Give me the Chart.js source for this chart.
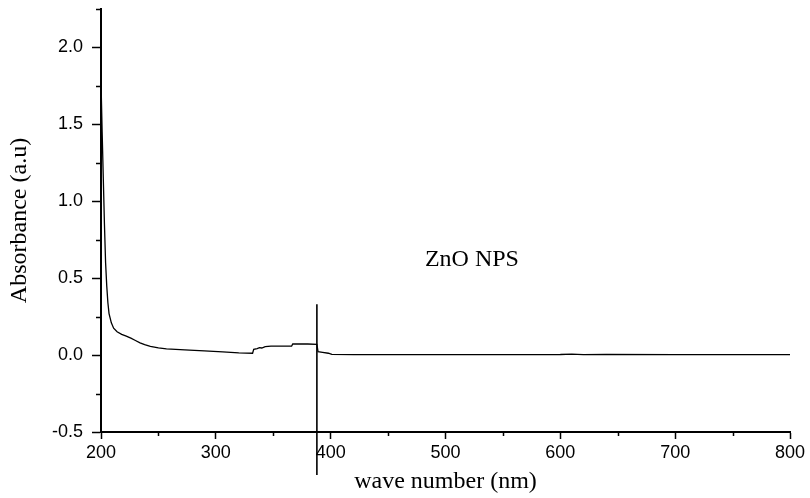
<!DOCTYPE html>
<html>
<head>
<meta charset="utf-8">
<script src="https://cdn.jsdelivr.net/npm/chart.js@4/dist/chart.umd.min.js"></script>
<style>
    html, body { margin: 0; padding: 0; background: #fff; }
    #wrap { width: 810px; height: 498px; }
</style>
</head>
<body>
<div id="wrap"><canvas id="uvChart" width="810" height="498"></canvas></div>
<script>
// Absorbance spectrum
const waveNm = [200, 201, 202, 203, 204, 205, 206, 207, 209, 211, 214, 218, 222, 226, 230, 234, 238, 243, 250, 257, 265, 277, 290, 306, 320, 332, 333, 336, 338, 340, 343, 348, 366, 367, 375, 380, 388, 389, 393, 398, 401, 420, 500, 600, 610, 620, 640, 700, 800];
const absorbance = [1.78, 1.45, 1.15, 0.85, 0.6, 0.45, 0.34, 0.27, 0.21, 0.175, 0.152, 0.135, 0.123, 0.11, 0.095, 0.08, 0.068, 0.057, 0.047, 0.041, 0.037, 0.032, 0.027, 0.021, 0.014, 0.012, 0.038, 0.042, 0.048, 0.046, 0.055, 0.058, 0.058, 0.072, 0.073, 0.072, 0.07, 0.022, 0.018, 0.012, 0.004, 0.003, 0.003, 0.004, 0.006, 0.003, 0.004, 0.003, 0.003];

// Vertical marker line
const markerNm = 388;
const markerRange = [0.33, -0.78];

// Axis ranges and ticks
const xRange = [200, 800];
const yRange = [-0.5, 2.25];
const xStep = 50;
const yStep = 0.25;

const sampleLabel = 'ZnO NPS';
const labelAt = [523, 0.62];

const curve = waveNm.map((x, i) => ({ x: x, y: absorbance[i] }));
const marker = markerRange.map(y => ({ x: markerNm, y: y }));

const isMajorX = v => Math.abs(v % 100) < 1e-6;
const isMajorY = v => Math.abs(Math.round(v * 2) - v * 2) < 1e-6;

// minor ticks + sample label
const extrasPlugin = {
    id: 'extras',
    afterDraw(chart) {
        const ctx = chart.ctx;
        const xs = chart.scales.x;
        const ys = chart.scales.y;
        ctx.save();
        ctx.strokeStyle = '#000';
        ctx.lineWidth = 1.5;
        ctx.beginPath();
        for (let v = yRange[0]; v <= yRange[1] + 1e-9; v += yStep) {
            if (isMajorY(v)) continue;
            const py = Math.round(ys.getPixelForValue(v)) + 0.5;
            ctx.moveTo(xs.left - 5, py);
            ctx.lineTo(xs.left, py);
        }
        for (let v = xRange[0]; v <= xRange[1] + 1e-9; v += xStep) {
            if (isMajorX(v)) continue;
            const px = Math.round(xs.getPixelForValue(v)) + 0.5;
            ctx.moveTo(px, ys.bottom);
            ctx.lineTo(px, ys.bottom + 4);
        }
        ctx.stroke();

        ctx.fillStyle = '#000';
        ctx.font = '24px "Liberation Serif", "Times New Roman", serif';
        ctx.textAlign = 'center';
        ctx.textBaseline = 'middle';
        ctx.fillText(sampleLabel, xs.getPixelForValue(labelAt[0]), ys.getPixelForValue(labelAt[1]));
        ctx.restore();
    }
};

const tickFont = { family: '"Liberation Sans", Arial, sans-serif', size: 18 };
const titleFont = { family: '"Liberation Serif", "Times New Roman", serif', size: 24 };

new Chart(document.getElementById('uvChart').getContext('2d'), {
    type: 'line',
    data: {
        datasets: [{
            data: curve,
            borderColor: '#000',
            borderWidth: 1.3,
            pointRadius: 0,
            tension: 0,
            fill: false
        }, {
            data: marker,
            borderColor: '#000',
            borderWidth: 1.6,
            pointRadius: 0,
            clip: false
        }]
    },
    options: {
        responsive: false,
        animation: false,
        events: [],
        layout: { padding: { left: 0, top: 9, right: 20, bottom: 0 } },
        plugins: {
            legend: { display: false },
            tooltip: { enabled: false }
        },
        scales: {
            x: {
                type: 'linear',
                min: xRange[0],
                max: xRange[1],
                border: { color: '#000', width: 2 },
                grid: { drawOnChartArea: false, tickLength: 7, tickColor: '#000', tickWidth: 1.5 },
                ticks: {
                    stepSize: xStep,
                    color: '#000',
                    font: tickFont,
                    padding: 3,
                    maxRotation: 0,
                    callback: v => isMajorX(v) ? String(v) : null
                },
                title: {
                    display: true,
                    text: 'wave number (nm)',
                    color: '#000',
                    font: titleFont,
                    padding: { top: 0, bottom: 2 }
                },
                afterFit: scale => { scale.height = 66; }
            },
            y: {
                min: yRange[0],
                max: yRange[1],
                border: { color: '#000', width: 2 },
                grid: { drawOnChartArea: false, tickLength: 9, tickColor: '#000', tickWidth: 1.5 },
                ticks: {
                    stepSize: yStep,
                    color: '#000',
                    font: tickFont,
                    padding: 9,
                    callback: v => isMajorY(v) ? v.toFixed(1) : null
                },
                title: {
                    display: true,
                    text: 'Absorbance (a.u)',
                    color: '#000',
                    font: titleFont,
                    padding: { top: 5, bottom: 0 }
                },
                afterFit: scale => {
                    scale.width = 101;
                    scale.paddingTop = 0;
                    scale.paddingBottom = 0;
                }
            }
        }
    },
    plugins: [extrasPlugin]
});
</script>
</body>
</html>
